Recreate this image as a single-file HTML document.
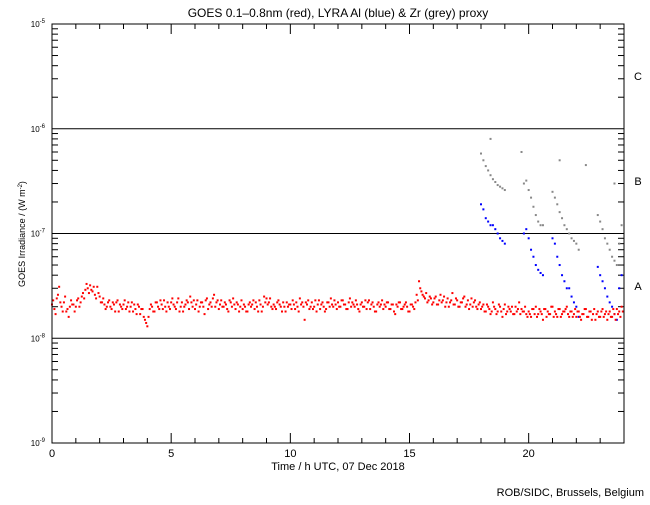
<!DOCTYPE html>
<html><head><meta charset="utf-8"><style>
body{margin:0;background:#fff;}
svg text{font-family:"Liberation Sans",sans-serif;fill:#000;}
</style></head><body>
<svg id="c" width="650" height="500" xmlns="http://www.w3.org/2000/svg">
<rect width="650" height="500" fill="#fff"/>
<text x="338" y="17" font-size="12" text-anchor="middle">GOES 0.1–0.8nm (red), LYRA Al (blue) &amp; Zr (grey) proxy</text>
<g id="grid"></g>
<g id="marks"></g>
<rect x="52" y="24" width="572" height="419" fill="none" stroke="#000" stroke-width="1"/>
<text x="338" y="470" font-size="11" text-anchor="middle">Time / h UTC, 07 Dec 2018</text>
<text transform="translate(25,234) rotate(-90)" font-size="9" text-anchor="middle">GOES Irradiance / (W m<tspan dy="-3" font-size="6">-2</tspan><tspan dy="3">)</tspan></text>
<text x="638" y="80" font-size="11" text-anchor="middle">C</text>
<text x="638" y="185" font-size="11" text-anchor="middle">B</text>
<text x="638" y="290" font-size="11" text-anchor="middle">A</text>
<text x="644" y="496" font-size="11" text-anchor="end">ROB/SIDC, Brussels, Belgium</text>
</svg>
<script>
const yDecades=[-5,-6,-7,-8,-9];
const xTickLabels=[0,5,10,15,20];
const redStart=0, redStep=0.1;
const redValues=[2.1,1.9,2.4,3.1,2.0,2.2,1.8,1.6,2.3,2.1,2.0,2.4,2.2,2.7,2.9,3.0,3.2,2.8,2.6,3.1,
2.5,2.2,2.1,2.0,2.3,1.9,2.1,2.2,1.8,2.0,2.1,1.9,2.2,2.0,1.8,1.9,2.1,1.7,1.9,1.5,
1.3,1.9,2.0,1.8,2.2,1.9,2.1,2.3,1.8,2.0,2.2,2.1,1.9,2.4,2.0,1.8,2.1,2.2,2.5,2.0,
1.9,2.3,2.0,2.2,1.7,2.4,2.1,2.0,2.6,2.2,1.9,2.3,2.0,2.1,1.8,2.2,2.4,1.9,2.1,2.0,
1.9,2.0,1.8,2.2,2.1,1.9,2.0,2.3,1.8,2.5,2.4,2.2,2.0,2.1,1.9,2.3,2.0,2.2,1.8,2.0,
2.1,2.3,1.9,2.0,2.4,2.2,1.5,2.1,1.9,2.2,2.0,1.8,2.3,2.1,2.0,1.9,2.2,2.4,2.0,2.1,
2.2,2.0,2.3,2.1,1.9,2.4,2.2,2.0,2.1,1.8,2.2,2.0,1.9,2.3,2.1,2.0,1.8,2.2,2.1,1.9,
2.0,2.2,1.9,2.1,1.7,2.0,2.2,1.9,2.1,2.0,1.8,2.1,1.9,2.6,3.5,2.8,2.5,2.7,2.3,2.4,
2.2,2.5,2.1,2.6,2.3,2.0,2.4,2.2,2.7,2.1,2.3,2.0,2.2,2.5,2.1,1.9,2.4,2.2,2.0,2.1,
1.9,2.1,1.8,2.0,1.7,2.2,1.9,1.8,2.0,1.6,2.1,1.8,1.9,2.0,1.7,1.8,2.2,1.9,1.8,1.7,
1.8,1.6,1.9,2.0,1.7,1.8,1.5,1.9,1.8,1.7,2.0,1.8,1.6,1.9,1.7,1.8,2.0,1.6,1.8,1.7,
1.6,1.8,1.5,1.7,1.9,1.6,1.8,1.7,1.5,1.8,1.6,1.9,1.7,1.5,1.8,1.6,1.7,1.9,1.8,2.0];
const redValuesB=[2.3,1.7,2.6,2.2,1.8,2.5,1.9,2.0,2.1,1.8,2.3,2.0,2.5,2.4,3.3,2.7,2.9,3.1,2.4,2.7,
2.2,2.4,1.9,2.2,2.0,2.2,1.8,2.3,2.1,1.9,2.3,2.0,1.8,2.2,2.1,1.7,2.0,1.9,1.6,1.4,
1.6,2.1,1.8,2.2,2.0,2.3,1.9,2.0,2.2,1.9,2.4,2.0,2.2,1.8,2.2,2.0,2.3,1.9,2.2,2.3,
2.1,1.8,2.2,2.0,2.3,1.9,2.2,2.4,2.0,2.3,2.1,2.0,2.2,1.9,2.3,2.0,2.1,2.2,1.8,2.3,
2.1,1.8,2.1,2.0,2.3,2.2,1.8,2.1,2.0,2.2,2.1,2.4,1.9,2.0,2.2,2.1,1.8,2.0,2.2,2.1,
1.9,2.1,2.2,1.8,2.1,2.0,2.2,2.3,2.0,1.9,2.3,2.1,1.9,2.2,1.8,2.2,2.0,2.1,2.3,1.9,
2.0,2.3,2.1,1.9,2.2,2.0,2.1,2.3,1.9,2.1,2.0,2.3,2.2,1.9,2.2,1.8,2.1,2.0,2.3,2.1,
2.2,1.9,2.1,1.8,2.1,2.2,1.9,2.0,2.2,1.8,2.1,2.0,2.2,2.3,3.0,2.6,2.4,2.2,2.5,2.1,
2.4,2.1,2.3,2.2,2.5,2.2,2.0,2.3,2.1,2.4,2.0,2.2,2.4,2.0,2.3,2.1,2.0,2.3,1.9,2.2,
2.0,1.8,2.1,1.9,1.8,2.0,1.7,2.1,1.8,1.9,1.7,2.0,1.8,1.7,2.0,1.9,1.7,1.8,2.0,1.6,
1.7,1.9,1.7,1.6,1.9,1.7,1.9,1.6,1.7,2.0,1.6,1.7,1.9,1.6,1.8,1.9,1.7,1.8,1.6,1.9,
1.8,1.6,1.7,1.9,1.6,1.8,1.5,1.9,1.7,1.6,1.8,1.6,1.8,1.7,1.6,1.9,1.5,1.7,1.6,1.8];
const blueTimes=[18.0,18.1,18.2,18.3,18.4,18.5,18.6,18.7,18.8,18.9,19.0,
19.8,19.9,20.0,20.1,20.2,20.3,20.4,20.5,20.6,
21.0,21.1,21.2,21.3,21.4,21.5,21.6,21.7,21.8,21.9,22.0,22.1,
22.9,23.0,23.1,23.2,23.3,23.4,23.5,23.6,23.7,23.8,23.9];
const blueValues=[19,17,14,13,12,12,11,10,9,8.5,8,
10,11,9,7,6,5,4.5,4.2,4,
9,8,6,5,4,3.5,3,3,2.5,2.2,2,1.6,
4.8,4,3.5,3,2.5,2.2,2,1.7,1.5,3,4];
const greyTimes=[18.0,18.1,18.2,18.3,18.4,18.5,18.6,18.7,18.8,18.9,19.0,
19.8,19.9,20.0,20.1,20.2,20.3,20.4,20.5,20.6,
21.0,21.1,21.2,21.3,21.4,21.5,21.6,21.7,21.8,21.9,22.0,22.1,
22.9,23.0,23.1,23.2,23.3,23.4,23.5,23.6,23.7,23.8,23.9,
18.4,19.7,21.3,22.4,23.6];
const greyValues=[58,50,44,40,36,33,31,29,28,27,26,
30,32,26,22,18,15,13,12,12,
25,22,19,16,14,12,11,10,9,8.5,8,7,
15,13,11,9,8,7,6,5.5,5,8,12,
80,60,50,45,30];
const X0=52,X1=624,Y0=24,Y1=443;
function xs(h){return X0+(X1-X0)*h/24;}
function ys(v){return Y0+(-5-Math.log10(v))*(Y1-Y0)/4;}
const NS="http://www.w3.org/2000/svg";
function el(t,a,p){const e=document.createElementNS(NS,t);for(const k in a)e.setAttribute(k,a[k]);p.appendChild(e);return e;}
const g=document.getElementById('grid'),m=document.getElementById('marks');
yDecades.forEach((d,i)=>{
 const y=ys(Math.pow(10,d));
 if(i>0&&i<4){const l=el('line',{x1:X0,x2:X1,y1:y,y2:y,stroke:'#000'},g);
 
 }
 const t=el('text',{x:45,y:y+3,'font-size':8,'text-anchor':'end'},g);
 
 
 t.textContent='10';
 const s=el('tspan',{dy:-4,'font-size':6},t);s.textContent=String(d);
 if(i<4){for(let k=2;k<=9;k++){const yy=ys(k*Math.pow(10,d-1));
  const a=el('line',{x1:X0,x2:X0+6,y1:yy,y2:yy,stroke:'#000'},g);
  
  
  const b=el('line',{x1:X1-6,x2:X1,y1:yy,y2:yy,stroke:'#000'},g);
  
  }}
});
for(let h=0;h<=24;h++){const x=xs(h),L=(h%5==0)?10:5;
 const a=el('line',{x1:x,x2:x,y1:Y1,y2:Y1-L,stroke:'#000'},g);
 
 
 const b=el('line',{x1:x,x2:x,y1:Y0,y2:Y0+L,stroke:'#000'},g);
 
 }
xTickLabels.forEach(h=>{const t=el('text',{x:xs(h),y:457,'font-size':11,'text-anchor':'middle'},g);
 
 
 t.textContent=h;});
function dots(times,vals,color,name){vals.forEach((v,i)=>{
 const r=el('rect',{x:xs(times[i])-1,y:ys(v*1e-8)-1,width:2,height:2,fill:color},m);
 
 });}
dots(greyTimes,greyValues,'#888','zr-proxy-point');
dots(blueTimes,blueValues,'#0000ff','al-proxy-point');
dots(redValues.map((v,i)=>redStart+i*redStep),redValues,'#ff0000','goes-point');
dots(redValuesB.map((v,i)=>redStart+i*redStep+0.05),redValuesB,'#ff0000','goes-point');
</script>
</body></html>
